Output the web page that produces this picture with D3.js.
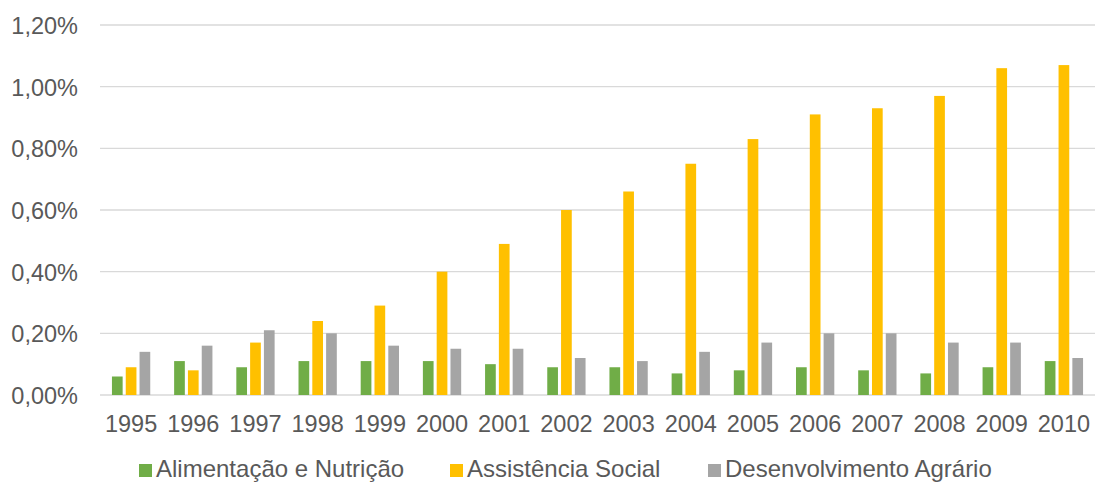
<!DOCTYPE html>
<html>
<head>
<meta charset="utf-8">
<script src="https://cdn.jsdelivr.net/npm/d3@7"></script>
<style>
  html, body { margin: 0; padding: 0; background: #fff; }
  svg text { font-family: "Liberation Sans", Arial, sans-serif; fill: #595959; }
</style>
</head>
<body>
<svg id="chart" width="1097" height="483"></svg>
<script>
// Gasto federal por área, em % do PIB
const years = ["1995","1996","1997","1998","1999","2000","2001","2002","2003","2004","2005","2006","2007","2008","2009","2010"];
const alimentacao = [0.06,0.11,0.09,0.11,0.11,0.11,0.10,0.09,0.09,0.07,0.08,0.09,0.08,0.07,0.09,0.11];
const assistencia = [0.09,0.08,0.17,0.24,0.29,0.40,0.49,0.60,0.66,0.75,0.83,0.91,0.93,0.97,1.06,1.07];
const agrario     = [0.14,0.16,0.21,0.20,0.16,0.15,0.15,0.12,0.11,0.14,0.17,0.20,0.20,0.17,0.17,0.12];
const seriesNames = ["Alimentação e Nutrição","Assistência Social","Desenvolvimento Agrário"];
const colors = ["#70AD47","#FFC000","#A5A5A5"];
const yTicks = [0,0.2,0.4,0.6,0.8,1.0,1.2];

const seriesValues = [alimentacao, assistencia, agrario];
const svg = d3.select("#chart");
const m = { left: 100, right: 1095, top: 25, bottom: 395 };
const fontSize = 23.5;

const x = d3.scaleBand().domain(years).range([m.left, m.right]).padding(0);
const y = d3.scaleLinear().domain([0, 1.2]).range([m.bottom, m.top]);
const barW = 10.7, barStep = 13.8;

const fmt = v => v.toFixed(2).replace(".", ",") + "%";

// grade horizontal
svg.append("g").selectAll("line").data(yTicks).join("line")
  .attr("x1", m.left).attr("x2", m.right)
  .attr("y1", d => y(d)).attr("y2", d => y(d))
  .attr("stroke", "#D9D9D9").attr("stroke-width", 1.3);

// rótulos do eixo y
const yAxis = d3.axisLeft(y).tickValues(yTicks).tickFormat(fmt).tickSize(0).tickPadding(0);
const gy = svg.append("g").attr("transform", "translate(78,0)").call(yAxis);
gy.select(".domain").remove();
gy.selectAll("text").attr("font-size", fontSize).attr("dy", "0.36em")
  .style("font-family", "'Liberation Sans', Arial, sans-serif").attr("fill", "#595959");

// barras
seriesValues.forEach((vals, si) => {
  svg.append("g").selectAll("rect").data(years).join("rect")
    .attr("x", (d) => x(d) + x.bandwidth() / 2 + (si - 1) * barStep - barW / 2)
    .attr("y", (d, i) => y(vals[i]))
    .attr("width", barW)
    .attr("height", (d, i) => y(0) - y(vals[i]))
    .attr("fill", colors[si]);
});

// eixo x
const xAxis = d3.axisBottom(x).tickSize(0).tickPadding(0);
const gx = svg.append("g").attr("transform", "translate(0,432)").call(xAxis);
gx.select(".domain").remove();
gx.selectAll("text").attr("font-size", fontSize).attr("dy", 0)
  .style("font-family", "'Liberation Sans', Arial, sans-serif").attr("fill", "#595959");

// legenda
const legendX = [139, 450, 708];
const lg = svg.append("g");
seriesNames.forEach((name, i) => {
  lg.append("rect").attr("x", legendX[i]).attr("y", 464).attr("width", 13).attr("height", 13).attr("fill", colors[i]);
  lg.append("text").attr("x", legendX[i] + 17).attr("y", 477).attr("font-size", 24).text(name);
});
</script>
</body>
</html>
